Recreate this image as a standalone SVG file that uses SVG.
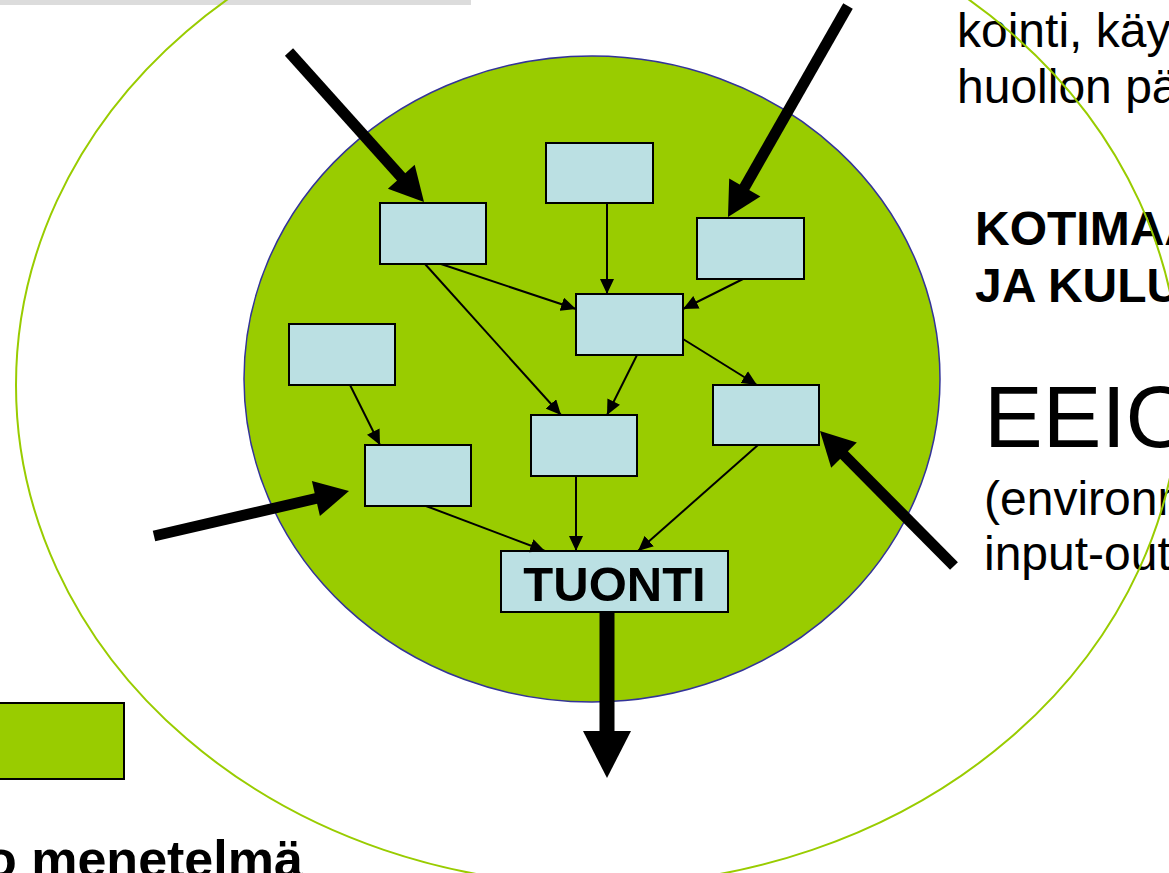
<svg xmlns="http://www.w3.org/2000/svg" width="1169" height="873" viewBox="0 0 1169 873">
<defs>
<style>
.box{fill:#bbe0e3;stroke:#000;stroke-width:2}
.thin{stroke:#000;stroke-width:2;fill:none;marker-end:url(#ah)}
.thick{stroke:#000;stroke-width:11;fill:none}
.head{fill:#000}
.t{font-family:"Liberation Sans",Arial,sans-serif;fill:#000}
.b{font-weight:bold}
</style>
<marker id="ah" markerUnits="userSpaceOnUse" markerWidth="16" markerHeight="14" refX="15" refY="7" orient="auto">
<path d="M0,0 L15,7 L0,14 z" fill="#000"/>
</marker>
</defs>
<rect x="0" y="0" width="471" height="5" fill="#dcdcdc"/>
<g id="texts">
<text class="t" x="957" y="47" font-size="48">kointi, käy</text>
<text class="t" x="957" y="103" font-size="48">huollon pä</text>
<text class="t b" x="975" y="245" font-size="48">KOTIMAA</text>
<text class="t b" x="975" y="302" font-size="48">JA KULU</text>
<text class="t" x="984" y="447" font-size="88">EEIO</text>
<text class="t" x="984" y="515" font-size="48">(environm</text>
<text class="t" x="984" y="570" font-size="48">input-out</text>
<text class="t b" x="-15" y="877" font-size="52">o menetelmä</text>
</g>
<ellipse id="outer" cx="598" cy="385" rx="582" ry="500" fill="none" stroke="#99cc00" stroke-width="2"/>
<rect id="legend" x="-5" y="703" width="129" height="76" fill="#99cc00" stroke="#000" stroke-width="2"/>
<ellipse id="system" cx="592" cy="379" rx="348" ry="323" fill="#99cc00" stroke="#333399" stroke-width="1.5"/>
<g id="nodes">
<g id="nA"><rect class="box" x="380" y="203" width="106" height="61"/></g>
<g id="nB"><rect class="box" x="546" y="143" width="107" height="60"/></g>
<g id="nC"><rect class="box" x="697" y="218" width="107" height="61"/></g>
<g id="nD"><rect class="box" x="289" y="324" width="106" height="61"/></g>
<g id="nE"><rect class="box" x="576" y="294" width="107" height="61"/></g>
<g id="nF"><rect class="box" x="713" y="385" width="106" height="60"/></g>
<g id="nG"><rect class="box" x="531" y="415" width="106" height="61"/></g>
<g id="nH"><rect class="box" x="365" y="445" width="106" height="61"/></g>
<g id="nTUONTI"><rect class="box" x="501" y="551" width="227" height="61"/>
<text class="t b" x="614.5" y="601" font-size="49" text-anchor="middle">TUONTI</text></g>
</g>
<g id="connectors">
<line class="thin" x1="607" y1="203" x2="607" y2="294"/>
<line class="thin" x1="441" y1="264" x2="576" y2="309"/>
<line class="thin" x1="743" y1="279" x2="683" y2="309"/>
<line class="thin" x1="637" y1="355" x2="607" y2="415"/>
<line class="thin" x1="425" y1="264" x2="561" y2="415"/>
<line class="thin" x1="683" y1="339" x2="757" y2="385"/>
<line class="thin" x1="350" y1="385" x2="380" y2="445"/>
<line class="thin" x1="426" y1="506" x2="545" y2="551"/>
<line class="thin" x1="576" y1="476" x2="576" y2="551"/>
<line class="thin" x1="758" y1="445" x2="638" y2="551"/>
<line class="thick" x1="289" y1="52" x2="403" y2="179"/>
<polygon class="head" points="424,202 387.9,188.7 414.7,164.7"/>
<line class="thick" x1="848" y1="6" x2="743" y2="190"/>
<polygon class="head" points="728,217 760.4,196.4 729.2,178.6"/>
<line class="thick" x1="154" y1="536" x2="318" y2="498"/>
<polygon class="head" points="349,491 319.9,516.1 311.9,481.1"/>
<line class="thick" x1="954" y1="566" x2="842" y2="453"/>
<polygon class="head" points="820,431 856.8,442.4 831.2,467.8"/>
<line stroke="#000" stroke-width="15" x1="607" y1="612" x2="607" y2="733"/>
<polygon class="head" points="583,731 631,731 607,778"/>
</g>
</svg>
